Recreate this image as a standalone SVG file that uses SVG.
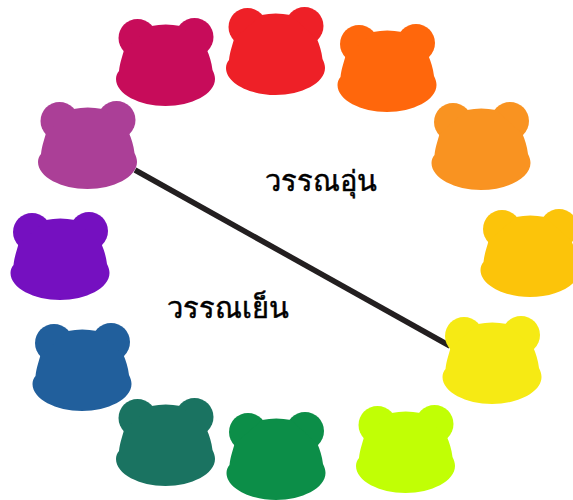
<svg xmlns="http://www.w3.org/2000/svg" width="573" height="500" viewBox="0 0 573 500">
<style>
text{font-family:"Noto Sans","DejaVu Sans","Liberation Sans",sans-serif;font-size:29px;fill:#000;stroke:#000;stroke-width:.5}
.conn{stroke:#231f20;stroke-width:5.5;fill:none}
</style>
<defs>
<g id="bear">
<circle cx="-28" cy="-68" r="19"/>
<circle cx="29" cy="-69" r="19"/>
<path d="M-41.5-56C-43-50-45.5-44-46.5-35C-48.5-33-49.5-30-49.5-27C-49.5-12-26 0 0 0C26 0 49.5-12 49.5-27C49.5-30 48.5-33 47-36C46-44 44-50 41.5-56L15-80Q0-83-14-80Z"/>
</g>
</defs>
<rect width="573" height="500" fill="#fff"/>
<g id="connectors"><line class="conn" x1="135" y1="170" x2="450" y2="346"/></g>
<g id="bear-crimson"><use href="#bear" x="165.5" y="106" fill="#c70c5a"/></g>
<g id="bear-red"><use href="#bear" x="275.5" y="95" fill="#ee2027"/></g>
<g id="bear-orange"><use href="#bear" x="387" y="112" fill="#ff670c"/></g>
<g id="bear-light-orange"><use href="#bear" x="481" y="190" fill="#f99321"/></g>
<g id="bear-amber"><use href="#bear" x="530" y="297" fill="#fcc40a"/></g>
<g id="bear-yellow"><use href="#bear" x="492" y="404" fill="#f6ea14"/></g>
<g id="bear-lime"><use href="#bear" x="405.5" y="493" fill="#c1ff05"/></g>
<g id="bear-green"><use href="#bear" x="276" y="500" fill="#0c8e48"/></g>
<g id="bear-teal"><use href="#bear" x="165.5" y="486" fill="#1a7361"/></g>
<g id="bear-blue"><use href="#bear" x="82" y="411" fill="#215f9c"/></g>
<g id="bear-violet"><use href="#bear" x="60" y="300" fill="#7510c0"/></g>
<g id="bear-purple"><use href="#bear" x="87.5" y="189" fill="#ab3f97"/></g>
<g id="label-warm"><text x="265" y="190.5">วรรณอุ่น</text></g>
<g id="label-cool"><text x="167" y="317.5">วรรณเย็น</text></g>
</svg>
